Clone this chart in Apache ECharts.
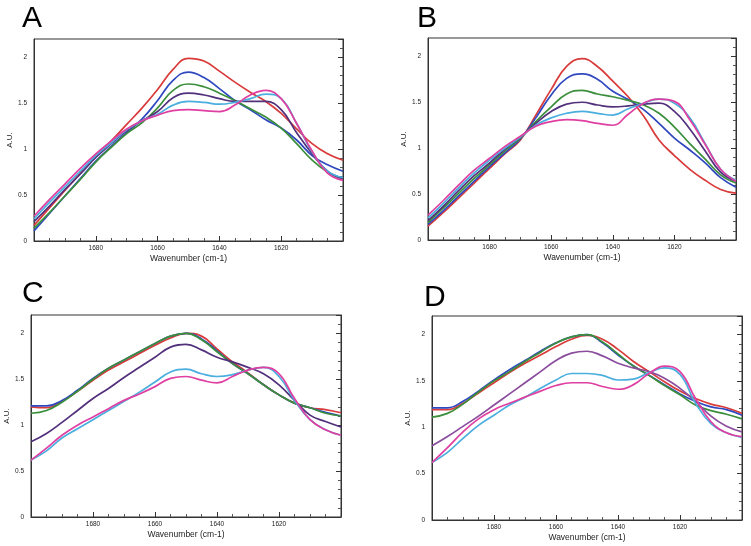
<!DOCTYPE html>
<html>
<head>
<meta charset="utf-8">
<script src="https://cdn.jsdelivr.net/npm/echarts@6/dist/echarts.min.js"></script>
<style>
html,body{margin:0;padding:0;background:#fff;}
#chart{width:751px;height:546px;}
</style>
</head>
<body>
<div id="chart"></div>
<script>
// Wavenumber grid (cm-1), left to right on the reversed axis
const wavenumber = [1700,1695,1690,1685,1680,1675,1670,1665,1660,1655,1650,1645,1640,1635,1630,1625,1620,1615,1610,1605,1600];
const xTicks = [1620,1640,1660,1680];
const yTicks = [0,0.5,1,1.5,2];
const panelLabels = ['A','B','C','D'];
const seriesNames = ['red','blue','green','purple','cyan','magenta'];

// Panel A
const A_red     = [0.17,0.36,0.55,0.74,0.92,1.09,1.27,1.45,1.65,1.87,1.99,1.96,1.85,1.73,1.62,1.52,1.39,1.22,1.06,0.95,0.88];
const A_blue    = [0.11,0.30,0.49,0.68,0.87,1.03,1.18,1.33,1.53,1.75,1.84,1.78,1.66,1.53,1.43,1.32,1.23,1.10,0.93,0.83,0.76];
const A_green   = [0.14,0.31,0.49,0.67,0.86,1.02,1.17,1.29,1.45,1.64,1.71,1.68,1.61,1.53,1.44,1.35,1.23,1.06,0.88,0.75,0.67];
const A_purple  = [0.21,0.38,0.56,0.73,0.91,1.06,1.20,1.31,1.41,1.56,1.61,1.59,1.55,1.52,1.52,1.52,1.43,1.18,0.95,0.76,0.68];
const A_cyan    = [0.24,0.42,0.59,0.76,0.93,1.07,1.21,1.31,1.38,1.48,1.52,1.51,1.49,1.51,1.55,1.60,1.55,1.28,0.97,0.76,0.69];
const A_magenta = [0.27,0.45,0.62,0.79,0.95,1.09,1.22,1.31,1.37,1.42,1.43,1.42,1.41,1.48,1.59,1.64,1.55,1.28,0.98,0.74,0.66];

// Panel B
const B_red     = [0.15,0.30,0.46,0.62,0.78,0.94,1.09,1.36,1.64,1.89,1.975,1.89,1.73,1.56,1.35,1.09,0.92,0.77,0.65,0.55,0.51];
const B_blue    = [0.17,0.32,0.48,0.64,0.80,0.95,1.10,1.33,1.58,1.76,1.81,1.75,1.62,1.53,1.42,1.27,1.11,0.98,0.84,0.68,0.575];
const B_green   = [0.19,0.35,0.51,0.67,0.82,0.97,1.11,1.29,1.45,1.59,1.63,1.59,1.56,1.52,1.47,1.38,1.23,1.05,0.88,0.71,0.62];
const B_purple  = [0.21,0.37,0.54,0.70,0.84,0.99,1.12,1.27,1.40,1.48,1.50,1.47,1.45,1.46,1.48,1.49,1.40,1.21,0.97,0.74,0.64];
const B_cyan    = [0.24,0.40,0.57,0.73,0.87,1.00,1.12,1.25,1.33,1.38,1.40,1.38,1.36,1.43,1.49,1.535,1.49,1.33,1.05,0.77,0.65];
const B_magenta = [0.27,0.43,0.60,0.76,0.89,1.02,1.13,1.24,1.29,1.31,1.30,1.27,1.25,1.37,1.49,1.535,1.51,1.31,1.04,0.77,0.64];

// Panel C
const C_red     = [1.20,1.19,1.26,1.37,1.49,1.60,1.69,1.78,1.87,1.95,2.00,1.97,1.83,1.69,1.57,1.44,1.33,1.24,1.19,1.17,1.135];
const C_blue    = [1.21,1.21,1.27,1.38,1.51,1.62,1.71,1.80,1.89,1.97,2.00,1.94,1.81,1.67,1.56,1.44,1.33,1.24,1.19,1.14,1.10];
const C_green   = [1.13,1.16,1.25,1.37,1.50,1.62,1.71,1.80,1.89,1.97,2.00,1.93,1.80,1.67,1.56,1.44,1.33,1.24,1.19,1.13,1.10];
const C_purple  = [0.82,0.91,1.03,1.16,1.29,1.40,1.52,1.63,1.74,1.85,1.88,1.82,1.74,1.69,1.63,1.56,1.44,1.27,1.11,1.04,0.98];
const C_cyan    = [0.62,0.72,0.86,0.96,1.06,1.16,1.26,1.36,1.47,1.58,1.61,1.56,1.53,1.55,1.60,1.63,1.53,1.27,1.06,0.95,0.89];
const C_magenta = [0.62,0.75,0.89,1.00,1.09,1.18,1.27,1.34,1.42,1.51,1.53,1.49,1.46,1.53,1.60,1.63,1.56,1.29,1.06,0.95,0.89];

// Panel D
const D_red     = [1.19,1.19,1.26,1.37,1.48,1.59,1.69,1.78,1.87,1.95,1.99,1.95,1.84,1.71,1.60,1.49,1.39,1.31,1.25,1.21,1.15];
const D_blue    = [1.21,1.21,1.28,1.39,1.51,1.62,1.72,1.82,1.91,1.975,2.00,1.91,1.78,1.66,1.56,1.46,1.36,1.28,1.22,1.19,1.13];
const D_green   = [1.11,1.15,1.25,1.38,1.50,1.60,1.71,1.81,1.91,1.975,2.00,1.92,1.79,1.66,1.56,1.45,1.35,1.24,1.18,1.14,1.09];
const D_purple  = [0.80,0.90,1.01,1.12,1.24,1.36,1.48,1.60,1.72,1.80,1.82,1.77,1.69,1.64,1.60,1.53,1.42,1.28,1.12,1.01,0.95];
const D_cyan    = [0.62,0.73,0.88,1.02,1.13,1.24,1.325,1.42,1.51,1.58,1.58,1.56,1.51,1.52,1.59,1.64,1.57,1.26,1.04,0.94,0.89];
const D_magenta = [0.62,0.78,0.95,1.09,1.19,1.26,1.325,1.39,1.45,1.48,1.48,1.44,1.41,1.46,1.58,1.66,1.60,1.31,1.06,0.94,0.90];

const panels = [
  [A_red, A_blue, A_green, A_purple, A_cyan, A_magenta],
  [B_red, B_blue, B_green, B_purple, B_cyan, B_magenta],
  [C_red, C_blue, C_green, C_purple, C_cyan, C_magenta],
  [D_red, D_blue, D_green, D_purple, D_cyan, D_magenta]
];

const colorsABC = ['#d93a3a','#2f48c0','#3b8e3b','#52307c','#4aaede','#e03fa2'];
const colorsD   = ['#d93a3a','#2f48c0','#3b8e3b','#8a4c9c','#4aaede','#e03fa2'];

const FONT = 'Liberation Sans, Arial, Helvetica, sans-serif';

const grids = [
  {left:34, top:39, width:309, height:202},
  {left:428, top:38, width:308, height:202},
  {left:31, top:315, width:310, height:202},
  {left:432, top:316, width:310, height:204}
];
const letterPos = [[22,4],[417,4],[22,279],[424,283]];

const xAxes = [], yAxes = [], series = [], graphics = [];
grids.forEach((g, i) => {
  g.show = true; g.borderColor = '#333'; g.borderWidth = 1; g.backgroundColor = 'transparent';
  xAxes.push({
    type:'value', gridIndex:i, min:1600, max:1700, interval:20, inverse:true,
    name:'Wavenumber (cm-1)', nameLocation:'middle', nameGap:13,
    nameTextStyle:{fontSize:8.5, color:'#222', fontFamily:FONT},
    axisLine:{show:true, lineStyle:{color:'#333', width:1}},
    axisTick:{show:true, inside:true, length:5, lineStyle:{color:'#333'}},
    minorTick:{show:true, splitNumber:4, length:3, lineStyle:{color:'#555'}},
    axisLabel:{fontSize:6.5, color:'#222', margin:4, fontFamily:FONT, showMinLabel:false, showMaxLabel:false,
      formatter: v => xTicks.includes(v) ? String(v) : ''},
    splitLine:{show:false}
  });
  yAxes.push({
    type:'value', gridIndex:i, min:0, max:2.2, interval:0.5, position:'left',
    name:'A.U.', nameLocation:'middle', nameGap:14, nameRotate:90,
    nameTextStyle:{fontSize:8, color:'#222', fontFamily:FONT},
    axisLine:{show:true, lineStyle:{color:'#333', width:1}},
    axisTick:{show:false},
    axisLabel:{fontSize:6.5, color:'#222', margin:7, fontFamily:FONT, showMaxLabel:false,
      formatter: v => yTicks.includes(v) ? String(v) : ''},
    splitLine:{show:false}
  });
  yAxes.push({
    type:'value', gridIndex:i, min:0, max:2.2, interval:0.5, position:'right',
    axisLine:{show:true, lineStyle:{color:'#333', width:1}},
    axisTick:{show:true, inside:true, length:5, lineStyle:{color:'#333'}},
    minorTick:{show:true, splitNumber:5, length:3, lineStyle:{color:'#555'}},
    axisLabel:{show:false},
    splitLine:{show:false}
  });
  const cols = i === 3 ? colorsD : colorsABC;
  panels[i].forEach((arr, k) => {
    series.push({
      type:'line', name: panelLabels[i] + '-' + seriesNames[k],
      xAxisIndex:i, yAxisIndex:i*2,
      data: wavenumber.map((w, j) => [w, arr[j]]),
      smooth:0.45, showSymbol:false, symbol:'none',
      lineStyle:{color:cols[k], width:1.7},
      itemStyle:{color:cols[k]},
      z: 2 + k
    });
  });
  graphics.push({
    type:'text', left:letterPos[i][0], top:letterPos[i][1],
    style:{text:panelLabels[i], fontSize:30, fill:'#000', fontFamily:FONT}
  });
});

const chart = echarts.init(document.getElementById('chart'), null, {renderer:'canvas'});
chart.setOption({
  backgroundColor:'#fff',
  animation:false,
  grid: grids,
  xAxis: xAxes,
  yAxis: yAxes,
  series: series,
  graphic: graphics
});
</script>
</body>
</html>
